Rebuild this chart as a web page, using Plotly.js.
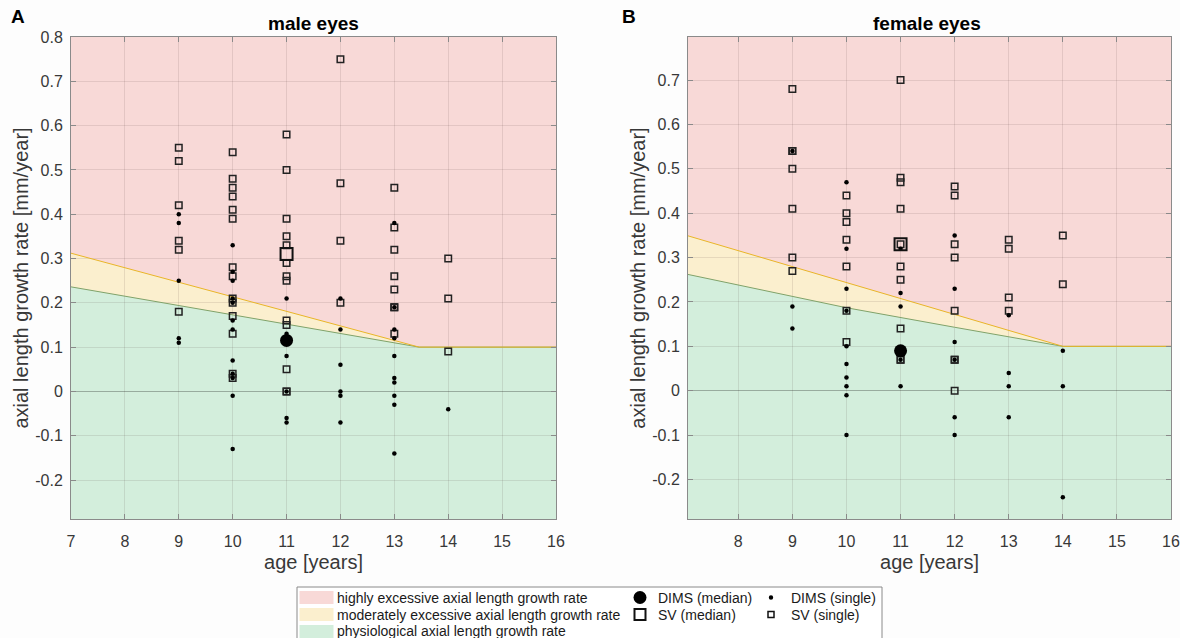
<!DOCTYPE html>
<html>
<head>
<meta charset="utf-8">
<script src="https://cdn.plot.ly/plotly-3.0.1.min.js"></script>
<style>
html,body{margin:0;padding:0;background:#ffffff;}
#chart{width:1180px;height:638px;}
</style>
</head>
<body>
<div id="chart"></div>
<script>
// ---------------- data ----------------
const ageGroups = [9, 10, 11, 12, 13, 14];

// male eyes – single values per age group
const maleSVRates = [
  [0.55, 0.52, 0.42, 0.34, 0.32, 0.18],
  [0.54, 0.48, 0.46, 0.44, 0.41, 0.39, 0.28, 0.26, 0.21, 0.20, 0.17, 0.13, 0.04, 0.03],
  [0.58, 0.50, 0.39, 0.35, 0.33, 0.29, 0.26, 0.25, 0.16, 0.15, 0.05, 0.00, 0.00],
  [0.75, 0.47, 0.34, 0.20],
  [0.46, 0.37, 0.32, 0.26, 0.23, 0.19, 0.19, 0.13],
  [0.30, 0.21, 0.09]
];
const maleDIMSRates = [
  [0.40, 0.38, 0.25, 0.12, 0.11],
  [0.33, 0.27, 0.25, 0.21, 0.20, 0.16, 0.14, 0.07, 0.04, 0.03, -0.01, -0.13],
  [0.21, 0.13, 0.08, 0.00, -0.06, -0.07],
  [0.21, 0.14, 0.06, 0.00, -0.01, -0.07],
  [0.38, 0.19, 0.14, 0.12, 0.08, 0.03, 0.02, -0.01, -0.03, -0.14],
  [-0.04]
];
// female eyes – single values per age group
const femaleSVRates = [
  [0.68, 0.54, 0.54, 0.50, 0.41, 0.30, 0.27],
  [0.44, 0.40, 0.38, 0.34, 0.28, 0.18, 0.11],
  [0.70, 0.48, 0.47, 0.41, 0.33, 0.28, 0.25, 0.14, 0.07, 0.07],
  [0.46, 0.44, 0.33, 0.30, 0.18, 0.07, 0.07, 0.00],
  [0.34, 0.32, 0.21, 0.18],
  [0.35, 0.24]
];
const femaleDIMSRates = [
  [0.54, 0.19, 0.14],
  [0.47, 0.32, 0.23, 0.18, 0.10, 0.06, 0.03, 0.01, -0.01, -0.10],
  [0.32, 0.22, 0.19, 0.07, 0.01],
  [0.35, 0.23, 0.11, 0.07, -0.06, -0.10],
  [0.17, 0.04, 0.01, -0.06],
  [0.09, 0.01, -0.24]
];

// medians
const medianAge = [11];
const maleDIMSMedian = [0.115];
const maleSVMedian = [0.31];
const femaleDIMSMedian = [0.09];
const femaleSVMedian = [0.33];

// growth-rate category boundaries
const maleUpperX = [7, 13.46, 16];
const maleUpperY = [0.312, 0.10, 0.10];
const maleLowerX = [7, 13.46, 16];
const maleLowerY = [0.236, 0.10, 0.10];
const femaleUpperX = [7.07, 14, 16];
const femaleUpperY = [0.349, 0.10, 0.10];
const femaleLowerX = [7.07, 8, 10, 12, 14, 16];
const femaleLowerY = [0.262, 0.238, 0.187, 0.143, 0.10, 0.10];

// tick labels
const xTickVals = [7, 8, 9, 10, 11, 12, 13, 14, 15, 16];
const xTickText = ['7', '8', '9', '10', '11', '12', '13', '14', '15', '16'];
const yTickVals = [-0.2, -0.1, 0, 0.1, 0.2, 0.3, 0.4, 0.5, 0.6, 0.7, 0.8];
const yTickText = ['-0.2', '-0.1', '0', '0.1', '0.2', '0.3', '0.4', '0.5', '0.6', '0.7', '0.8'];

// legend labels
const categoryLabels = ['highly excessive axial length growth rate',
                        'moderately excessive axial length growth rate',
                        'physiological axial length growth rate'];
const markerLabels = ['DIMS (median)', 'SV (median)', 'DIMS (single)', 'SV (single)'];

// ---------------- styling ----------------
const FONT = 'Liberation Sans, Arial, Helvetica, sans-serif';
const PINK = '#F8D9D7';
const YELLOW = '#FBEFCE';
const GREEN = '#D3EEDC';
const UPPER_LINE = '#E9B528';
const LOWER_LINE = '#7FA36A';
const W = 1180, H = 638;

function flatten(rates) {
  const xs = [], ys = [];
  rates.forEach((arr, i) => arr.forEach(v => { xs.push(ageGroups[i]); ys.push(v); }));
  return {x: xs, y: ys};
}

function regionShapes(ux, uy, lx, ly, xr, yr) {
  const yb = -5;
  let g = 'M ' + lx[0] + ',' + yb;
  lx.forEach((x, i) => { g += ' L ' + x + ',' + ly[i]; });
  g += ' L ' + lx[lx.length - 1] + ',' + yb + ' Z';
  let y = 'M ' + ux[0] + ',' + uy[0];
  ux.forEach((x, i) => { if (i > 0) y += ' L ' + x + ',' + uy[i]; });
  for (let i = lx.length - 1; i >= 0; i--) y += ' L ' + lx[i] + ',' + ly[i];
  y += ' Z';
  return [
    {type: 'path', path: g, xref: xr, yref: yr, fillcolor: GREEN, line: {width: 0}, layer: 'below'},
    {type: 'path', path: y, xref: xr, yref: yr, fillcolor: YELLOW, line: {width: 0}, layer: 'below'}
  ];
}

function panelTraces(svRates, dimsRates, svMed, dimsMed, ux, uy, lx, ly, xa, ya) {
  const sv = flatten(svRates);
  const dm = flatten(dimsRates);
  return [
    {x: lx, y: ly, xaxis: xa, yaxis: ya, mode: 'lines', line: {color: LOWER_LINE, width: 1}, hoverinfo: 'skip', showlegend: false},
    {x: ux, y: uy, xaxis: xa, yaxis: ya, mode: 'lines', line: {color: UPPER_LINE, width: 1}, hoverinfo: 'skip', showlegend: false},
    {x: sv.x, y: sv.y, xaxis: xa, yaxis: ya, mode: 'markers', name: 'SV (single)', showlegend: false,
     marker: {symbol: 'square-open', size: 6.5, color: '#222', line: {width: 1.5, color: '#222'}}},
    {x: dm.x, y: dm.y, xaxis: xa, yaxis: ya, mode: 'markers', name: 'DIMS (single)', showlegend: false,
     marker: {symbol: 'circle', size: 4.5, color: '#000'}},
    {x: medianAge, y: svMed, xaxis: xa, yaxis: ya, mode: 'markers', name: 'SV (median)', showlegend: false,
     marker: {symbol: 'square-open', size: 12, color: '#111', line: {width: 2, color: '#111'}}},
    {x: medianAge, y: dimsMed, xaxis: xa, yaxis: ya, mode: 'markers', name: 'DIMS (median)', showlegend: false,
     marker: {symbol: 'circle', size: 13, color: '#000'}}
  ];
}

const traces = [].concat(
  panelTraces(maleSVRates, maleDIMSRates, maleSVMedian, maleDIMSMedian,
              maleUpperX, maleUpperY, maleLowerX, maleLowerY, 'x', 'y'),
  panelTraces(femaleSVRates, femaleDIMSRates, femaleSVMedian, femaleDIMSMedian,
              femaleUpperX, femaleUpperY, femaleLowerX, femaleLowerY, 'x2', 'y2')
);

const axisCommon = {
  showgrid: true, gridcolor: 'rgba(60,40,40,0.11)', gridwidth: 1,
  showline: true, linecolor: '#8a8a8a', linewidth: 1, mirror: 'ticks',
  ticks: 'inside', ticklen: 5, tickcolor: '#8a8a8a', tickwidth: 1,
  tickfont: {family: FONT, size: 16, color: '#383838'},
  tickmode: 'array', fixedrange: true
};
function xAxis(domain, range, anchor) {
  return Object.assign({}, axisCommon, {
    domain: domain, range: range, anchor: anchor, zeroline: false,
    tickvals: xTickVals, ticktext: xTickText, ticklabelstandoff: 8,
    title: {text: 'age [years]', font: {family: FONT, size: 20, color: '#383838'}, standoff: 5}
  });
}
function yAxis(range, anchor) {
  return Object.assign({}, axisCommon, {
    domain: [119 / H, 601 / H], range: range, anchor: anchor,
    zeroline: true, zerolinecolor: 'rgba(0,0,0,0.28)', zerolinewidth: 1,
    tickvals: yTickVals, ticktext: yTickText, ticklabelstandoff: 4,
    title: {text: 'axial length growth rate [mm/year]', font: {family: FONT, size: 20, color: '#383838'}, standoff: 1}
  });
}

// ---------------- legend (drawn in pixel space) ----------------
function px(x) { return x / W; }
function py(y) { return (H - y) / H; }
const legendShapes = [
  {type: 'rect', xref: 'paper', yref: 'paper', x0: px(297), x1: px(882), y0: py(660), y1: py(587),
   fillcolor: '#ffffff', line: {color: '#8a8a8a', width: 1}}
];
const patchColors = [PINK, YELLOW, GREEN];
const rowY = [597.5, 614.5, 630.5];
const patchY = [597.5, 614.5, 631.5];
patchColors.forEach((c, i) => {
  legendShapes.push({type: 'rect', xref: 'paper', yref: 'paper', x0: px(299.5), x1: px(333.5),
    y0: py(patchY[i] + 6.5), y1: py(patchY[i] - 6.5), fillcolor: c, line: {width: 0}});
});
function circleShape(cx, cy, r, fill) {
  return {type: 'circle', xref: 'paper', yref: 'paper', x0: px(cx - r), x1: px(cx + r),
          y0: py(cy + r), y1: py(cy - r), fillcolor: fill, line: {color: fill, width: 0}};
}
function squareShape(cx, cy, h, lw) {
  return {type: 'rect', xref: 'paper', yref: 'paper', x0: px(cx - h), x1: px(cx + h),
          y0: py(cy + h), y1: py(cy - h), fillcolor: 'rgba(0,0,0,0)', line: {color: '#111', width: lw}};
}
legendShapes.push(circleShape(640, rowY[0], 6.5, '#000'));
legendShapes.push(squareShape(640, rowY[1], 5.5, 2));
legendShapes.push(circleShape(771, rowY[0], 2.2, '#000'));
legendShapes.push(squareShape(771, rowY[1], 3, 1.5));

const legendFont = {family: FONT, size: 14, color: '#1a1a1a'};
const annotations = [];
categoryLabels.forEach((t, i) => {
  annotations.push({text: t, xref: 'paper', yref: 'paper', x: px(336), y: py(rowY[i]),
    xanchor: 'left', yanchor: 'middle', showarrow: false, font: legendFont, borderpad: 0});
});
annotations.push({text: markerLabels[0], xref: 'paper', yref: 'paper', x: px(657), y: py(rowY[0]), xanchor: 'left', yanchor: 'middle', showarrow: false, font: legendFont, borderpad: 0});
annotations.push({text: markerLabels[1], xref: 'paper', yref: 'paper', x: px(657), y: py(rowY[1]), xanchor: 'left', yanchor: 'middle', showarrow: false, font: legendFont, borderpad: 0});
annotations.push({text: markerLabels[2], xref: 'paper', yref: 'paper', x: px(790), y: py(rowY[0]), xanchor: 'left', yanchor: 'middle', showarrow: false, font: legendFont, borderpad: 0});
annotations.push({text: markerLabels[3], xref: 'paper', yref: 'paper', x: px(790), y: py(rowY[1]), xanchor: 'left', yanchor: 'middle', showarrow: false, font: legendFont, borderpad: 0});

// panel titles and letters
const titleFont = {family: FONT, size: 19, color: '#000'};
annotations.push({text: '<b>male eyes</b>', xref: 'paper', yref: 'paper', x: px(313.5), y: py(24), xanchor: 'center', yanchor: 'middle', showarrow: false, font: titleFont});
annotations.push({text: '<b>female eyes</b>', xref: 'paper', yref: 'paper', x: px(927), y: py(24), xanchor: 'center', yanchor: 'middle', showarrow: false, font: titleFont});
annotations.push({text: '<b>A</b>', xref: 'paper', yref: 'paper', x: px(18), y: py(17), xanchor: 'center', yanchor: 'middle', showarrow: false, font: titleFont});
annotations.push({text: '<b>B</b>', xref: 'paper', yref: 'paper', x: px(629), y: py(17), xanchor: 'center', yanchor: 'middle', showarrow: false, font: titleFont});

const shapes = [].concat(
  regionShapes(maleUpperX, maleUpperY, maleLowerX, maleLowerY, 'x', 'y'),
  regionShapes(femaleUpperX, femaleUpperY, femaleLowerX, femaleLowerY, 'x2', 'y2'),
  legendShapes
);

const layout = {
  width: W, height: H,
  margin: {l: 0, r: 0, t: 0, b: 0, pad: 0},
  paper_bgcolor: '#fdfdfd',
  plot_bgcolor: PINK,
  showlegend: false,
  font: {family: FONT, color: '#383838'},
  xaxis: xAxis([71 / W, 556 / W], [7, 16], 'y'),
  yaxis: yAxis([-0.288, 0.8], 'x'),
  xaxis2: xAxis([688 / W, 1171 / W], [7.07, 16], 'y2'),
  yaxis2: yAxis([-0.289, 0.797], 'x2'),
  shapes: shapes,
  annotations: annotations
};

Plotly.newPlot('chart', traces, layout, {displayModeBar: false, staticPlot: true});
</script>
</body>
</html>
